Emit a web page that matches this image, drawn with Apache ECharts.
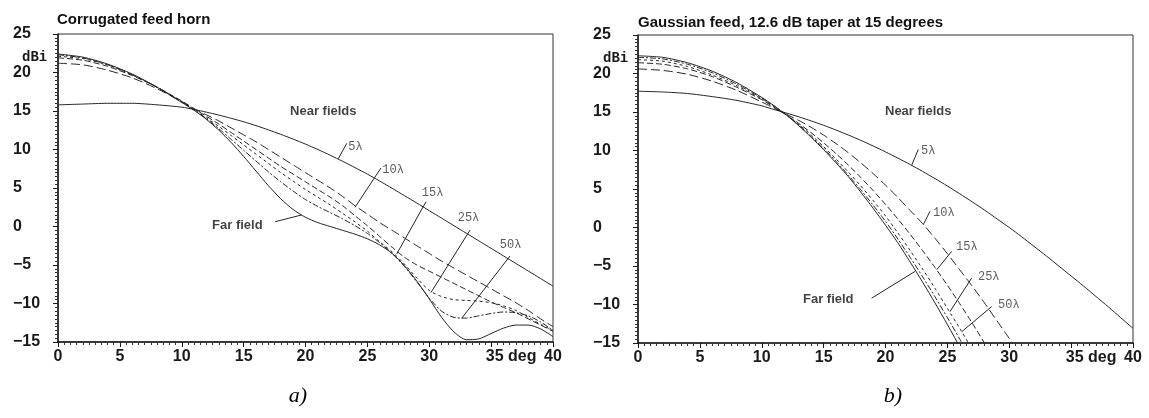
<!DOCTYPE html>
<html>
<head>
<meta charset="utf-8">
<script src="https://cdn.jsdelivr.net/npm/echarts@6/dist/echarts.min.js"></script>
<style>
  html, body { margin: 0; padding: 0; background: #fff; }
  #chart { width: 1149px; height: 418px; }
</style>
</head>
<body>
<div id="chart"></div>
<script>
// angle samples (deg) shared by every curve
const angles = [0, 2, 4, 6, 8, 10, 11, 12, 13, 14, 15, 16, 17, 18, 19, 20, 21, 22, 23, 24, 25,
  26, 27, 28, 29, 30, 31, 32, 33, 34, 35, 36, 37, 38, 39, 40];

// a) corrugated feed horn, gain in dBi
const horn5 = [15.8, 15.9, 16.0, 16.0, 15.8, 15.5, 15.2, 14.85, 14.47, 14.05, 13.6, 13.1, 12.55, 11.97, 11.35, 10.7,
  10.0, 9.25, 8.47, 7.65, 6.8, 5.9, 4.96, 4.0, 3.04, 2.06, 1.08, 0.1, -0.88, -1.86, -2.84, -3.82, -4.8, -5.78, -6.76, -7.75];
const horn10 = [21.2, 21.0, 20.3, 19.3, 17.9, 16.2, 15.3, 14.5, 13.7, 12.8, 11.9, 11.0, 10.0, 9.0, 8.0, 7.0,
  6.0, 5.0, 3.9, 2.7, 1.6, 0.5, -0.5, -1.5, -2.5, -3.5, -4.5, -5.4, -6.3, -7.2, -8.1, -9.0, -9.9, -10.9, -12.0, -13.0];
const horn15 = [21.9, 21.6, 20.8, 19.6, 18.1, 16.3, 15.3, 14.3, 13.3, 12.2, 11.1, 10.0, 8.9, 7.8, 6.8, 5.8,
  4.8, 3.8, 2.7, 1.4, 0.1, -1.3, -2.7, -4.0, -5.0, -5.8, -6.6, -7.4, -8.2, -9.0, -9.8, -10.5, -11.2, -12.0, -12.8, -13.6];
const horn25 = [22.1, 21.8, 21.0, 19.7, 18.1, 16.2, 15.2, 14.1, 13.0, 11.8, 10.6, 9.4, 8.2, 7.0, 5.9, 4.8,
  3.8, 2.8, 1.7, 0.6, -0.6, -2.0, -3.3, -4.9, -6.7, -8.3, -9.1, -9.5, -9.6, -9.7, -9.9, -10.3, -10.9, -11.8, -12.7, -13.5];
const horn50 = [22.3, 21.9, 21.0, 19.7, 18.1, 16.2, 15.1, 14.0, 12.7, 11.3, 9.9, 8.5, 7.1, 5.8, 4.6, 3.5,
  2.6, 1.8, 1.0, 0.1, -0.9, -2.1, -3.5, -5.2, -7.2, -9.3, -11.0, -11.8, -11.9, -11.6, -11.3, -11.1, -11.2, -11.6, -12.4, -13.5];
const hornFar = [22.4, 22.0, 21.1, 19.8, 18.1, 16.1, 15.1, 13.9, 12.5, 10.9, 9.1, 7.2, 5.3, 3.6, 2.2, 1.2,
  0.5, 0.0, -0.5, -1.0, -1.6, -2.4, -3.5, -5.1, -7.1, -9.4, -11.8, -13.7, -14.7, -14.6, -13.9, -13.2, -12.8, -12.8, -13.3, -14.3];

// b) gaussian feed (curves stop once they leave the bottom of the plot)
const gauss5 = [17.7, 17.6, 17.4, 17.0, 16.5, 15.8, 15.32, 14.86, 14.37, 13.84, 13.27, 12.66, 12.01, 11.32, 10.59, 9.82,
  9.01, 8.17, 7.28, 6.35, 5.39, 4.38, 3.34, 2.26, 1.13, 0.0, -1.2, -2.45, -3.7, -5.0, -6.3, -7.6, -8.95, -10.3, -11.7, -13.1];
const gauss10 = [20.6, 20.4, 19.9, 19.0, 17.8, 16.3, 15.5, 14.7, 13.9, 13.0, 12.0, 10.9, 9.7, 8.4, 7.0, 5.5,
  3.9, 2.2, 0.5, -1.4, -3.4, -5.5, -7.6, -9.8, -12.1, -14.4, -16.8];
const gauss15 = [21.4, 21.2, 20.6, 19.6, 18.2, 16.6, 15.6, 14.6, 13.5, 12.3, 11.0, 9.6, 8.1, 6.5, 4.8, 3.0,
  1.1, -0.9, -3.0, -5.2, -7.5, -9.9, -12.4, -15.0, -17.7];
const gauss25 = [21.8, 21.6, 20.9, 19.8, 18.4, 16.7, 15.7, 14.6, 13.4, 12.0, 10.5, 8.9, 7.2, 5.4, 3.5, 1.5,
  -0.7, -3.0, -5.4, -7.9, -10.5, -13.1, -15.8];
const gauss50 = [22.1, 21.9, 21.2, 20.1, 18.6, 16.8, 15.8, 14.6, 13.3, 11.8, 10.3, 8.6, 6.8, 4.9, 2.9, 0.8,
  -1.5, -3.9, -6.4, -9.0, -11.7, -14.5, -17.4];
const gaussFar = [22.3, 22.1, 21.4, 20.3, 18.8, 16.9, 15.8, 14.6, 13.2, 11.7, 10.1, 8.4, 6.6, 4.6, 2.5, 0.3,
  -2.0, -4.5, -7.1, -9.8, -12.6, -15.5];

// annotation text anchors [text, deg, dBi] and leader segments
const hornNotes = [['Near fields', 18.75, 14.9], ['5λ', 23.45, 10.4], ['10λ', 26.2, 7.35], ['15λ', 29.4, 4.4],
  ['25λ', 32.3, 1.1], ['50λ', 35.7, -2.4], ['Far field', 12.45, 0.2]];
const hornLeaders = [[[22.65, 8.8], [23.33, 10.8]], [[24.0, 2.5], [26.1, 7.6]], [[27.37, -3.57], [29.74, 3.22]],
  [[30.14, -8.57], [33.3, -0.45]], [[32.62, -11.92], [36.53, -3.83]], [[17.54, 0.62], [19.69, 1.5]]];
const gaussNotes = [['Near fields', 19.96, 15.1], ['5λ', 22.87, 9.9], ['10λ', 23.84, 1.95], ['15λ', 25.7, -2.5],
  ['25λ', 27.47, -6.4], ['50λ', 29.09, -10.05], ['Far field', 13.33, -9.4]];
const gaussLeaders = [[[22.12, 8.1], [22.65, 10.15]], [[23.05, 0.37], [23.6, 2.11]], [[24.14, -5.49], [25.35, -3.1]],
  [[25.21, -10.92], [26.96, -6.57]], [[26.16, -13.53], [28.58, -10.27]], [[18.88, -9.18], [22.38, -5.71]]];

const dashes = {
  '5λ': 'solid', '10λ': [9, 4], '15λ': [6, 3], '25λ': [3, 3], '50λ': [6, 2, 2, 2], 'far': 'solid'
};

const chart = echarts.init(document.getElementById('chart'));

function pairs(values) {
  return values.map((v, i) => [angles[i], v]);
}

function curveSeries(idx, key, values) {
  return {
    type: 'line',
    xAxisIndex: idx,
    yAxisIndex: idx,
    data: pairs(values),
    showSymbol: false,
    symbol: 'none',
    smooth: 0.25,
    clip: true,
    silent: true,
    lineStyle: { color: '#262626', width: 1, type: dashes[key] }
  };
}

function noteSeries(idx, notes, leaders) {
  return {
    type: 'scatter',
    xAxisIndex: idx,
    yAxisIndex: idx,
    symbolSize: 0,
    silent: true,
    z: 5,
    data: notes.map(([text, x, y]) => ({
      value: [x, y],
      name: text,
      label: text.includes('field')
        ? { fontFamily: 'Liberation Sans', fontWeight: 'bold', fontSize: 13, color: '#111' }
        : {}
    })),
    label: {
      show: true,
      position: 'right',
      distance: 0,
      formatter: '{b}',
      fontFamily: 'Liberation Mono',
      fontSize: 12,
      color: '#333'
    },
    markLine: {
      silent: true,
      symbol: ['none', 'none'],
      animation: false,
      label: { show: false },
      lineStyle: { color: '#262626', width: 1, type: 'solid' },
      data: leaders.map(([a, b]) => [{ coord: a }, { coord: b }])
    }
  };
}

const tickFont = { fontFamily: 'Liberation Sans', fontWeight: 'bold', fontSize: 16, color: '#1a1a1a' };

function xAxisFor(idx) {
  return {
    type: 'value',
    gridIndex: idx,
    min: 0,
    max: 40,
    interval: 5,
    axisLine: { onZero: false, lineStyle: { color: '#1a1a1a', width: 1.5 } },
    axisTick: { length: 5, lineStyle: { color: '#1a1a1a' } },
    minorTick: { show: true, splitNumber: 10, length: 3, lineStyle: { color: '#333' } },
    splitLine: { show: false },
    axisLabel: {
      ...tickFont,
      margin: 7,
      showMinLabel: true,
      showMaxLabel: true,
      formatter: (v) => (v === 35 ? '{gap|}35 deg' : String(v)),
      rich: { gap: { width: 40 } }
    }
  };
}

function yAxisFor(idx) {
  return {
    type: 'value',
    gridIndex: idx,
    min: -15,
    max: 25,
    interval: 5,
    axisLine: { onZero: false, lineStyle: { color: '#1a1a1a', width: 1.5 } },
    axisTick: { length: 5, lineStyle: { color: '#1a1a1a' } },
    minorTick: { show: true, splitNumber: 10, length: 3, lineStyle: { color: '#333' } },
    splitLine: { show: false },
    axisLabel: {
      ...tickFont,
      align: 'left',
      margin: 45,
      showMinLabel: true,
      showMaxLabel: true,
      formatter: (v) => (v < 0 ? '\u2212' + Math.abs(v) : String(v))
    }
  };
}

const gridStyle = { show: true, borderColor: '#333', borderWidth: 1, backgroundColor: '#fff', outerBoundsMode: 'none' };

chart.setOption({
  animation: false,
  backgroundColor: '#fff',
  grid: [
    { ...gridStyle, left: 58, width: 495, top: 34, height: 308 },
    { ...gridStyle, left: 638, width: 495, top: 35, height: 308 }
  ],
  xAxis: [xAxisFor(0), xAxisFor(1)],
  yAxis: [yAxisFor(0), yAxisFor(1)],
  graphic: [
    { type: 'text', x: 57, y: 20, style: { text: 'Corrugated feed horn', font: 'bold 15px "Liberation Sans"', fill: '#111', verticalAlign: 'middle' } },
    { type: 'text', x: 638, y: 23, style: { text: 'Gaussian feed, 12.6 dB taper at 15 degrees', font: 'bold 15px "Liberation Sans"', fill: '#111', verticalAlign: 'middle' } },
    { type: 'text', x: 22, y: 57, style: { text: 'dBi', font: 'bold 14px "Liberation Mono"', fill: '#1a1a1a', verticalAlign: 'middle' } },
    { type: 'text', x: 603, y: 58, style: { text: 'dBi', font: 'bold 14px "Liberation Mono"', fill: '#1a1a1a', verticalAlign: 'middle' } },
    { type: 'text', x: 298, y: 396, style: { text: 'a)', font: 'italic 22px "Liberation Serif"', fill: '#000', align: 'center', verticalAlign: 'middle' } },
    { type: 'text', x: 893, y: 396, style: { text: 'b)', font: 'italic 22px "Liberation Serif"', fill: '#000', align: 'center', verticalAlign: 'middle' } }
  ],
  series: [
    curveSeries(0, '5λ', horn5),
    curveSeries(0, '10λ', horn10),
    curveSeries(0, '15λ', horn15),
    curveSeries(0, '25λ', horn25),
    curveSeries(0, '50λ', horn50),
    curveSeries(0, 'far', hornFar),
    noteSeries(0, hornNotes, hornLeaders),
    curveSeries(1, '5λ', gauss5),
    curveSeries(1, '10λ', gauss10),
    curveSeries(1, '15λ', gauss15),
    curveSeries(1, '25λ', gauss25),
    curveSeries(1, '50λ', gauss50),
    curveSeries(1, 'far', gaussFar),
    noteSeries(1, gaussNotes, gaussLeaders)
  ]
});
</script>
</body>
</html>
